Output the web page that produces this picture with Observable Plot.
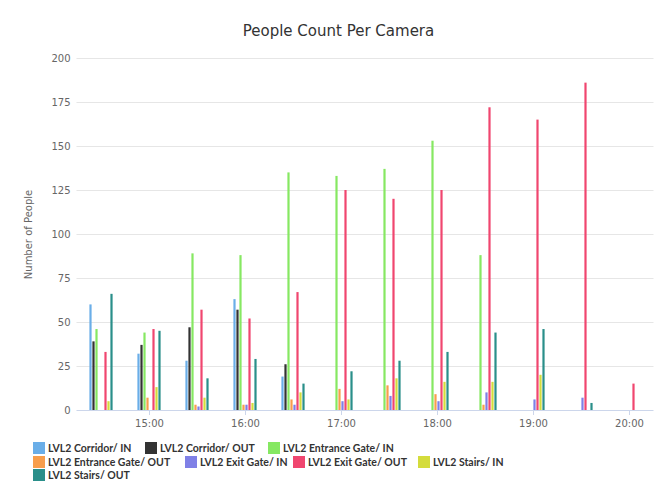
<!DOCTYPE html>
<html>
<head>
<meta charset="utf-8">
<script src="https://cdn.jsdelivr.net/npm/d3@7"></script>
<script src="https://cdn.jsdelivr.net/npm/@observablehq/plot@0.6"></script>
<style>
  html, body { margin: 0; padding: 0; background: #fff; }
  #wrap { position: relative; width: 663px; height: 491px; font-family: "DejaVu Sans", sans-serif; }
  #title { position: absolute; left: 0; top: 22px; width: 663px; padding-left: 14px; box-sizing: border-box; text-align: center; font-size: 15px; line-height: 18px; color: #333; }
  #chart { position: absolute; left: 0; top: 50px; }
  .leg { position: absolute; font-family: "Lato", sans-serif; font-weight: bold; font-size: 10.5px; color: #333; white-space: nowrap; line-height: 12px; }
  .leg span.sw { position: absolute; left: 0; top: 0; width: 12px; height: 12px; }
  .leg span.tx { position: absolute; left: 15px; top: 0; }
</style>
</head>
<body>
<div id="wrap">
  <div id="title">People Count Per Camera</div>
  <div id="chart"></div>
  <div id="legend"></div>
</div>
<script>
const times = ["14:30","15:00","15:30","16:00","16:30","17:00","17:30","18:00","18:30","19:00","19:30","20:00"];
const hourTicks = ["15:00","16:00","17:00","18:00","19:00","20:00"];
const yTicks = [0, 25, 50, 75, 100, 125, 150, 175, 200];
const series = [
  "LVL2 Corridor/ IN", "LVL2 Corridor/ OUT", "LVL2 Entrance Gate/ IN", "LVL2 Entrance Gate/ OUT",
  "LVL2 Exit Gate/ IN", "LVL2 Exit Gate/ OUT", "LVL2 Stairs/ IN", "LVL2 Stairs/ OUT"
];
const colors = ["#6aaee8", "#333333", "#86e862", "#f89e4c", "#7f80e6", "#f0466f", "#d4dc3c", "#2a8f8a"];

const corridorIn      = [60, 32, 28, 63, 19, 0, 0, 0, 0, 0, 0, 0];
const corridorOut     = [39, 37, 47, 57, 26, 0, 0, 0, 0, 0, 0, 0];
const entranceGateIn  = [46, 44, 89, 88, 135, 133, 137, 153, 88, 0, 0, 0];
const entranceGateOut = [0, 7, 3, 3, 6, 12, 14, 9, 3, 0, 0, 0];
const exitGateIn      = [0, 0, 2, 3, 3, 5, 8, 5, 10, 6, 7, 0];
const exitGateOut     = [33, 46, 57, 52, 67, 125, 120, 125, 172, 165, 186, 15];
const stairsIn        = [5, 13, 7, 4, 10, 6, 18, 16, 16, 20, 0, 0];
const stairsOut       = [66, 45, 18, 29, 15, 22, 28, 33, 44, 46, 4, 0];

const values = [corridorIn, corridorOut, entranceGateIn, entranceGateOut, exitGateIn, exitGateOut, stairsIn, stairsOut];
const data = times.flatMap((t, i) => series.map((s, j) => ({time: t, series: s, value: values[j][i]}))).filter(d => d.value > 0);

const W = 663, ML = 73, MR = 7;
const step = (W - ML - MR) / times.length;
const ext = -(0.21 * step) - 0.3;

const chart = Plot.plot({
  width: W,
  height: 385,
  marginLeft: ML,
  marginRight: MR,
  marginTop: 8,
  marginBottom: 25,
  style: {fontFamily: "DejaVu Sans, sans-serif", fontSize: "10px", color: "#666", background: "#fff"},
  fx: {domain: times, paddingInner: 0.42, paddingOuter: 0.21, label: null},
  x: {domain: series, axis: null, padding: 0},
  y: {domain: [0, 200], label: null},
  color: {domain: series, range: colors},
  marks: [
    Plot.ruleY(yTicks.filter(d => d > 0), {stroke: "#e6e6e6", insetLeft: ext, insetRight: ext}),
    Plot.ruleY([0], {stroke: "#ccd6eb", insetLeft: ext, insetRight: ext}),
    Plot.barY(data, {fx: "time", x: "series", y: "value", fill: "series", insetLeft: 0.4, insetRight: 0.4}),
    Plot.axisY({ticks: yTicks, tickSize: 0, tickPadding: 17, stroke: "none", fill: "#666",
      label: "Number of People", labelAnchor: "center", labelOffset: 63, labelArrow: "none"}),
    Plot.axisFx({ticks: hourTicks, anchor: "bottom", tickSize: 5, tickPadding: 4, stroke: "#ccd6eb", fill: "#666", label: null})
  ]
});
document.getElementById("chart").appendChild(chart);

// legend (HTML)
const legendPos = [
  [33, 442], [145, 442], [268, 442],
  [33, 456], [185, 456], [293, 456], [418, 456],
  [33, 469]
];
const legend = document.getElementById("legend");
series.forEach((s, i) => {
  const el = document.createElement("div");
  el.className = "leg";
  el.style.left = legendPos[i][0] + "px";
  el.style.top = legendPos[i][1] + "px";
  el.innerHTML = `<span class="sw" style="background:${colors[i]}"></span><span class="tx">${s}</span>`;
  legend.appendChild(el);
});
</script>
</body>
</html>
